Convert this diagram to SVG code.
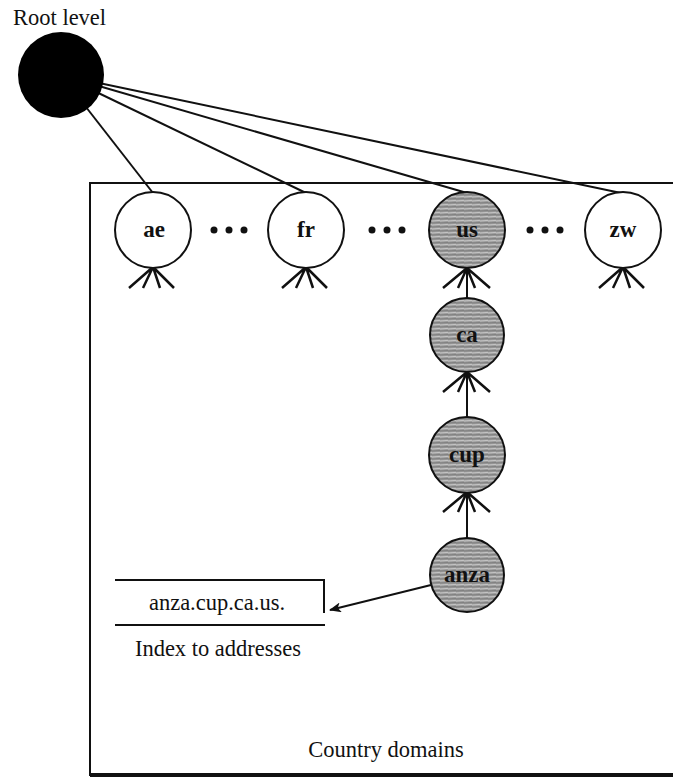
<svg xmlns="http://www.w3.org/2000/svg" width="673" height="779" viewBox="0 0 673 779">
<style>
  .lbl { font-family: "Liberation Serif", "Times New Roman", serif; font-size: 22.5px; fill: #111; }
  .nl { font-family: "Liberation Serif", "Times New Roman", serif; font-weight: bold; font-size: 23px; text-anchor: middle; fill: #111; }
  .wn { fill: #fff; stroke: #111; stroke-width: 2; }
  .gn { fill: url(#tex); stroke: #111; stroke-width: 2; }
  .ln { stroke: #111; stroke-width: 2; fill: none; }
  .ft { stroke: #111; stroke-width: 2.5; fill: none; }
</style>
<defs>
  <pattern id="tex" width="8" height="4" patternUnits="userSpaceOnUse">
    <rect width="8" height="4" fill="#9c9c9c"/>
    <path d="M0 1 L8 0.4" stroke="#cfcfcf" stroke-width="0.8"/>
    <path d="M0 3 L8 2.6" stroke="#6e6e6e" stroke-width="0.7"/>
  </pattern>
  <marker id="ah" markerWidth="12" markerHeight="10" refX="11" refY="5" orient="auto" markerUnits="userSpaceOnUse">
    <path d="M0 0 L12 5 L0 10 L3 5 Z" fill="#111"/>
  </marker>
</defs>

<rect width="673" height="779" fill="#fff"/>

<!-- Country domains box -->
<g id="box">
  <path d="M673 183 L90 183 L90 775 L673 775" class="ln"/>
  <line x1="90" y1="775" x2="673" y2="775" stroke="#111" stroke-width="4"/>
  <text class="lbl" x="386" y="757" text-anchor="middle">Country domains</text>
</g>

<!-- connectors -->
<g id="connectors">
  <line x1="61" y1="75" x2="153" y2="193" class="ln"/>
  <line x1="61" y1="75" x2="306" y2="193" class="ln"/>
  <line x1="61" y1="75" x2="467" y2="193" class="ln"/>
  <line x1="61" y1="75" x2="621" y2="193" class="ln"/>
  <line x1="467" y1="268" x2="467" y2="298" class="ln"/>
  <line x1="467" y1="372" x2="467" y2="417" class="ln"/>
  <line x1="467" y1="492" x2="467" y2="538" class="ln"/>
  <line x1="431" y1="585" x2="330" y2="610" class="ln" marker-end="url(#ah)"/>
  <!-- crow's feet -->
  <g class="ft">
    <path d="M153 267 L129 288 M153 267 L143 288 M153 267 L160 288 M153 267 L174 288"/>
    <path d="M306 267 L282 288 M306 267 L296 288 M306 267 L313 288 M306 267 L327 288"/>
    <path d="M467 268 L443 288 M467 268 L458 288 M467 268 L475 288 M467 268 L490 288"/>
    <path d="M623 267 L599 288 M623 267 L613 288 M623 267 L630 288 M623 267 L644 288"/>
    <path d="M467 372 L443 392 M467 372 L458 392 M467 372 L475 392 M467 372 L490 392"/>
    <path d="M467 492 L443 512 M467 492 L458 512 M467 492 L475 512 M467 492 L490 512"/>
  </g>
</g>

<!-- root -->
<g id="root">
  <circle cx="61" cy="75" r="43" fill="#000"/>
  <text class="lbl" x="13" y="25">Root level</text>
</g>

<!-- dots -->
<g id="dots" fill="#111">
  <circle cx="214" cy="230" r="3.5"/><circle cx="229" cy="230" r="3.5"/><circle cx="244" cy="230" r="3.5"/>
  <circle cx="372" cy="230" r="3.5"/><circle cx="387" cy="230" r="3.5"/><circle cx="402" cy="230" r="3.5"/>
  <circle cx="530" cy="230" r="3.5"/><circle cx="545" cy="230" r="3.5"/><circle cx="560" cy="230" r="3.5"/>
</g>

<g id="n-ae"><circle cx="153" cy="230" r="38" class="wn"/><text class="nl" x="154" y="237">ae</text></g>
<g id="n-fr"><circle cx="306" cy="230" r="38" class="wn"/><text class="nl" x="306" y="237">fr</text></g>
<g id="n-us"><circle cx="467" cy="230" r="38" class="gn"/><text class="nl" x="467" y="237">us</text></g>
<g id="n-zw"><circle cx="623" cy="230" r="38" class="wn"/><text class="nl" x="623" y="237">zw</text></g>
<g id="n-ca"><circle cx="467" cy="335" r="37" class="gn"/><text class="nl" x="467" y="342">ca</text></g>
<g id="n-cup"><circle cx="467" cy="455" r="38" class="gn"/><text class="nl" x="467" y="462">cup</text></g>
<g id="n-anza"><circle cx="467" cy="575" r="37" class="gn"/><text class="nl" x="467" y="582">anza</text></g>

<!-- index -->
<g id="index">
  <path d="M115 580 L324 580 L324 613" class="ln"/>
  <line x1="115" y1="625" x2="325" y2="625" class="ln"/>
  <text class="lbl" x="217" y="610" text-anchor="middle">anza.cup.ca.us.</text>
  <text class="lbl" x="218" y="656" text-anchor="middle">Index to addresses</text>
</g>
</svg>
